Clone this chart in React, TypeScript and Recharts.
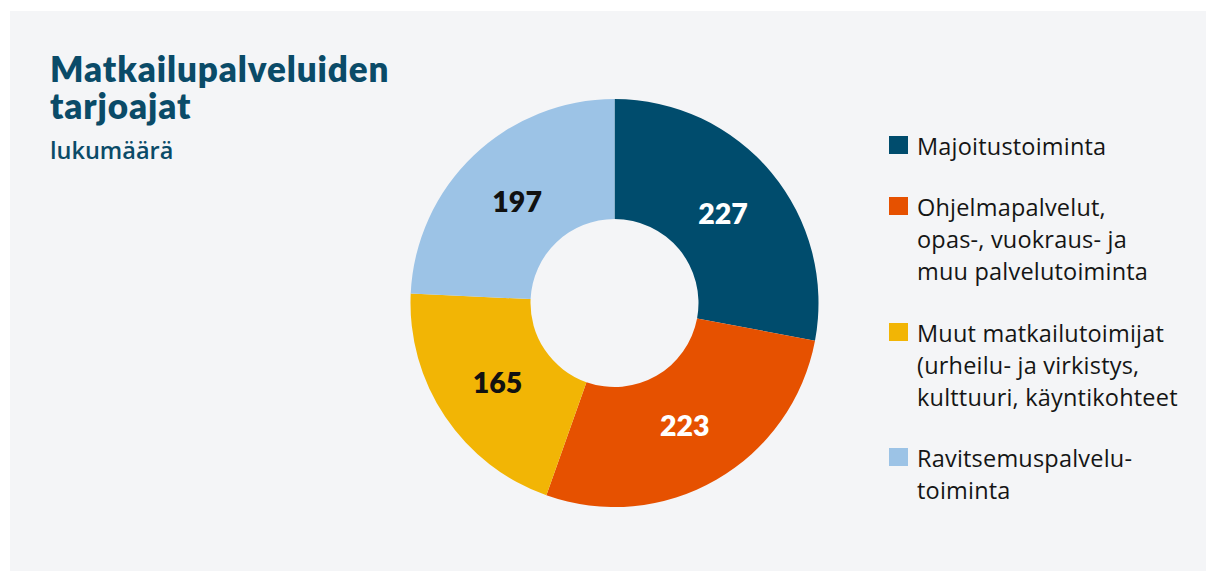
import React from "react";
import { PieChart, Pie, Cell, Legend } from "recharts";

const categories = [
  "Majoitustoiminta",
  "Ohjelmapalvelut, opas-, vuokraus- ja muu palvelutoiminta",
  "Muut matkailutoimijat (urheilu- ja virkistys, kulttuuri, käyntikohteet",
  "Ravitsemuspalvelutoiminta",
];
const legendLines = [
  ["Majoitustoiminta"],
  ["Ohjelmapalvelut,", "opas-, vuokraus- ja", "muu palvelutoiminta"],
  ["Muut matkailutoimijat", "(urheilu- ja virkistys,", "kulttuuri, käyntikohteet"],
  ["Ravitsemuspalvelu-", "toiminta"],
];
const titleLines = ["Matkailupalveluiden", "tarjoajat"];
const subtitle = "lukumäärä";
const values = [227, 223, 165, 197];
const colors = ["#004c6d", "#e65100", "#f2b505", "#9cc3e6"];
const labelColors = ["#ffffff", "#ffffff", "#111111", "#111111"];

const data = categories.map((name, i) => ({ name, value: values[i] }));

const TITLE_FONT = "Lato, 'Open Sans', sans-serif";
const FONT = "'Open Sans', Lato, sans-serif";
const RAD = Math.PI / 180;

const renderLabel = (props: any) => {
  const { cx, cy, midAngle, innerRadius, outerRadius, index, value } = props;
  const r = (innerRadius + outerRadius) / 2 - 3;
  const x = cx + r * Math.cos(-midAngle * RAD);
  const y = cy + r * Math.sin(-midAngle * RAD);
  return (
    <text
      x={x}
      y={y}
      fill={labelColors[index]}
      textAnchor="middle"
      dominantBaseline="central"
      fontFamily={TITLE_FONT}
      fontWeight={800}
      fontSize={28.5}
    >
      {value}
    </text>
  );
};

const legendTops = [155, 216, 342, 467];
const LegendContent = () => (
  <svg width={320} height={400} style={{ display: "block" }}>
    {legendLines.map((lines, i) => {
      const base = legendTops[i] - 120;
      return (
        <g key={i}>
          <rect x={0} y={base - 19} width={19} height={18} fill={colors[i]} />
          {lines.map((t, j) => (
            <text
              key={j}
              x={28}
              y={base + j * 32}
              fontFamily={FONT}
              fontSize={23.5}
              letterSpacing={0.2}
              fill="#151515"
            >
              {t}
            </text>
          ))}
        </g>
      );
    })}
  </svg>
);

export default function App() {
  return (
    <div
      style={{
        position: "absolute",
        left: 0,
        top: 0,
        width: 1206,
        height: 571,
        background: "#ffffff",
        overflow: "hidden",
      }}
    >
      <div
        style={{
          position: "absolute",
          left: 10,
          top: 11,
          width: 1196,
          height: 560,
          background: "#f4f5f7",
        }}
      />
      <svg
        width={1206}
        height={571}
        style={{ position: "absolute", left: 0, top: 0 }}
      >
        <text x={50} y={82} fontFamily={TITLE_FONT} fontWeight={800} fontSize={35} letterSpacing={0.9} fill="#0a4b68">
          {titleLines.map((t, i) => (
            <tspan key={i} x={50} dy={i === 0 ? 0 : 37}>
              {t}
            </tspan>
          ))}
        </text>
        <text x={50} y={159} fontFamily={FONT} fontWeight={600} fontSize={23.5} fill="#0a4b68">
          {subtitle}
        </text>
      </svg>
      <div style={{ position: "absolute", left: 0, top: 0 }}>
        <PieChart width={1206} height={571} margin={{ top: 0, right: 0, bottom: 0, left: 0 }}>
          <Pie
            data={data}
            dataKey="value"
            nameKey="name"
            cx={614.5}
            cy={303}
            innerRadius={84}
            outerRadius={204}
            startAngle={90}
            endAngle={-270}
            stroke="none"
            label={renderLabel}
            labelLine={false}
            isAnimationActive={false}
          >
            {data.map((d, i) => (
              <Cell key={d.name} fill={colors[i]} />
            ))}
          </Pie>
          <Legend
            content={<LegendContent />}
            layout="vertical"
            wrapperStyle={{ position: "absolute", left: 889, top: 120, width: 320 }}
          />
        </PieChart>
      </div>
    </div>
  );
}
